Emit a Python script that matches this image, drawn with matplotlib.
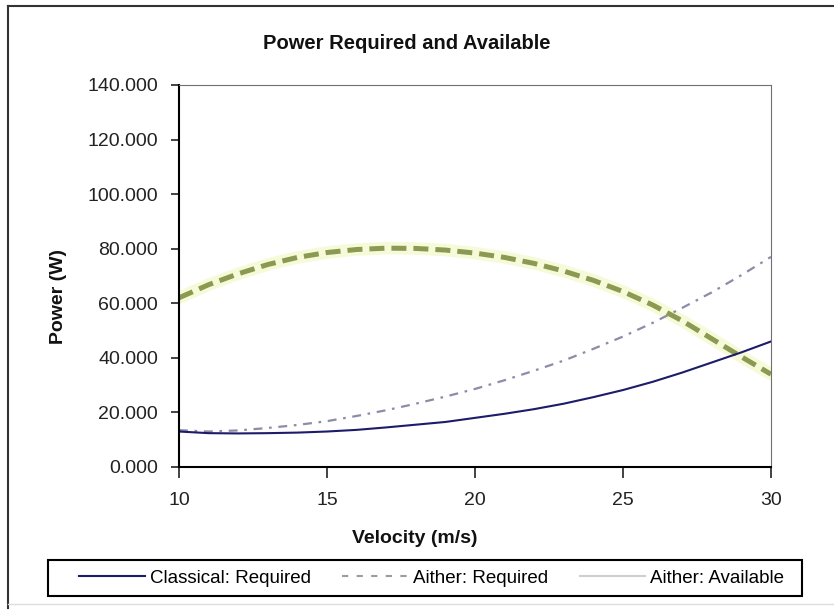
import numpy as np
import matplotlib
matplotlib.use('Agg')
import matplotlib.pyplot as plt
from matplotlib.lines import Line2D
from matplotlib.patches import Rectangle

plt.rcParams['font.family'] = ['Liberation Sans', 'DejaVu Sans']

# velocity (m/s)
velocity = [10, 11, 12, 13, 14, 15, 16, 17, 18, 19, 20,
            21, 22, 23, 24, 25, 26, 27, 28, 29, 30]
# power (W)
classical_req = [13.0, 12.4, 12.3, 12.4, 12.6, 13.0, 13.6, 14.5, 15.5, 16.5, 18.0,
                 19.5, 21.2, 23.2, 25.6, 28.2, 31.2, 34.6, 38.3, 42.0, 46.0]
aither_req = [13.5, 13.0, 13.4, 14.3, 15.4, 16.8, 18.7, 20.8, 23.2, 25.8, 28.6,
              31.8, 35.3, 39.0, 43.3, 47.8, 52.8, 58.3, 64.0, 70.3, 77.0]
aither_avail = [62.0, 66.8, 70.8, 74.2, 76.8, 78.6, 79.7, 80.2, 80.1, 79.5, 78.4,
                76.8, 74.6, 71.8, 68.4, 64.3, 59.4, 53.6, 47.0, 40.4, 34.0]

legend_labels = ['Classical: Required', 'Aither: Required', 'Aither: Available']
fnt = 13

fig = plt.figure(figsize=(8.34, 6.11), dpi=100)
ax = fig.add_axes([0.2146, 0.2357, 0.7098, 0.6252])

# faint yellow glow under the available curve
ax.plot(velocity, aither_avail, c='#f2f6b8', lw=9, alpha=0.55, solid_capstyle='round')
ax.plot(velocity, aither_avail, c='#8a9a52', lw=3.6, dashes=(3, 1.4))
ax.plot(velocity, aither_req, c='#8c8ca6', lw=1.6, dashes=(4, 3, 1.2, 3))
ax.plot(velocity, classical_req, c='#1c1c6a', lw=1.5)

ax.set_xlim(10, 30)
ax.set_ylim(0, 140)
ax.set_xticks([10, 15, 20, 25, 30])
ax.set_yticks(np.arange(0, 141, 20))
ax.set_yticklabels(['%.3f' % v for v in np.arange(0, 141, 20)])
ax.tick_params(axis='x', direction='out', length=8, width=1.2, pad=10, labelsize=fnt + 1, colors='#222222')
ax.tick_params(axis='y', direction='out', length=6, width=1.2, pad=9, labelsize=fnt + 1, colors='#222222')
ax.spines['left'].set_linewidth(1.5)
ax.spines['bottom'].set_linewidth(1.5)
ax.spines['top'].set_color('#707070')
ax.spines['right'].set_color('#707070')

fig.text(0.488, 0.929, 'Power Required and Available', ha='center', va='center',
         fontsize=fnt + 1.5, fontweight='bold', color='#111111')
fig.text(0.497, 0.119, 'Velocity (m/s)', ha='center', va='center',
         fontsize=fnt + 1, fontweight='bold', color='#111111')
fig.text(0.070, 0.514, 'Power (W)', ha='center', va='center', rotation=90,
         fontsize=fnt + 1, fontweight='bold', color='#111111')

handles = [Line2D([], [], c='#1c1c6a', lw=1.5),
           Line2D([], [], c='#9a9aa8', lw=1.5, dashes=(3, 4)),
           Line2D([], [], c='#cfcfcf', lw=1.5)]
leg_box = (0.0576, 0.0245, 0.904, 0.0589)
fig.legend(handles, legend_labels, loc='center', ncol=3,
           bbox_to_anchor=(0.0656, 0.0245, 0.904, 0.0589), fontsize=fnt + 0.5, frameon=False,
           borderaxespad=0, handlelength=3.5, handletextpad=0.25, columnspacing=1.7)
fig.add_artist(Rectangle(leg_box[:2], leg_box[2], leg_box[3], fill=False,
                         ec='k', lw=1.5, transform=fig.transFigure))

# outer chart frame
fig.add_artist(Line2D([0.0096, 0.0096], [0.005, 0.99], c='#333333', lw=1.5, transform=fig.transFigure))
fig.add_artist(Line2D([0.0096, 1.0], [0.99, 0.99], c='#333333', lw=1.5, transform=fig.transFigure))
fig.add_artist(Line2D([0.0096, 1.0], [0.012, 0.012], c='#dddddd', lw=1, transform=fig.transFigure))

plt.savefig('out.png', dpi=100)
